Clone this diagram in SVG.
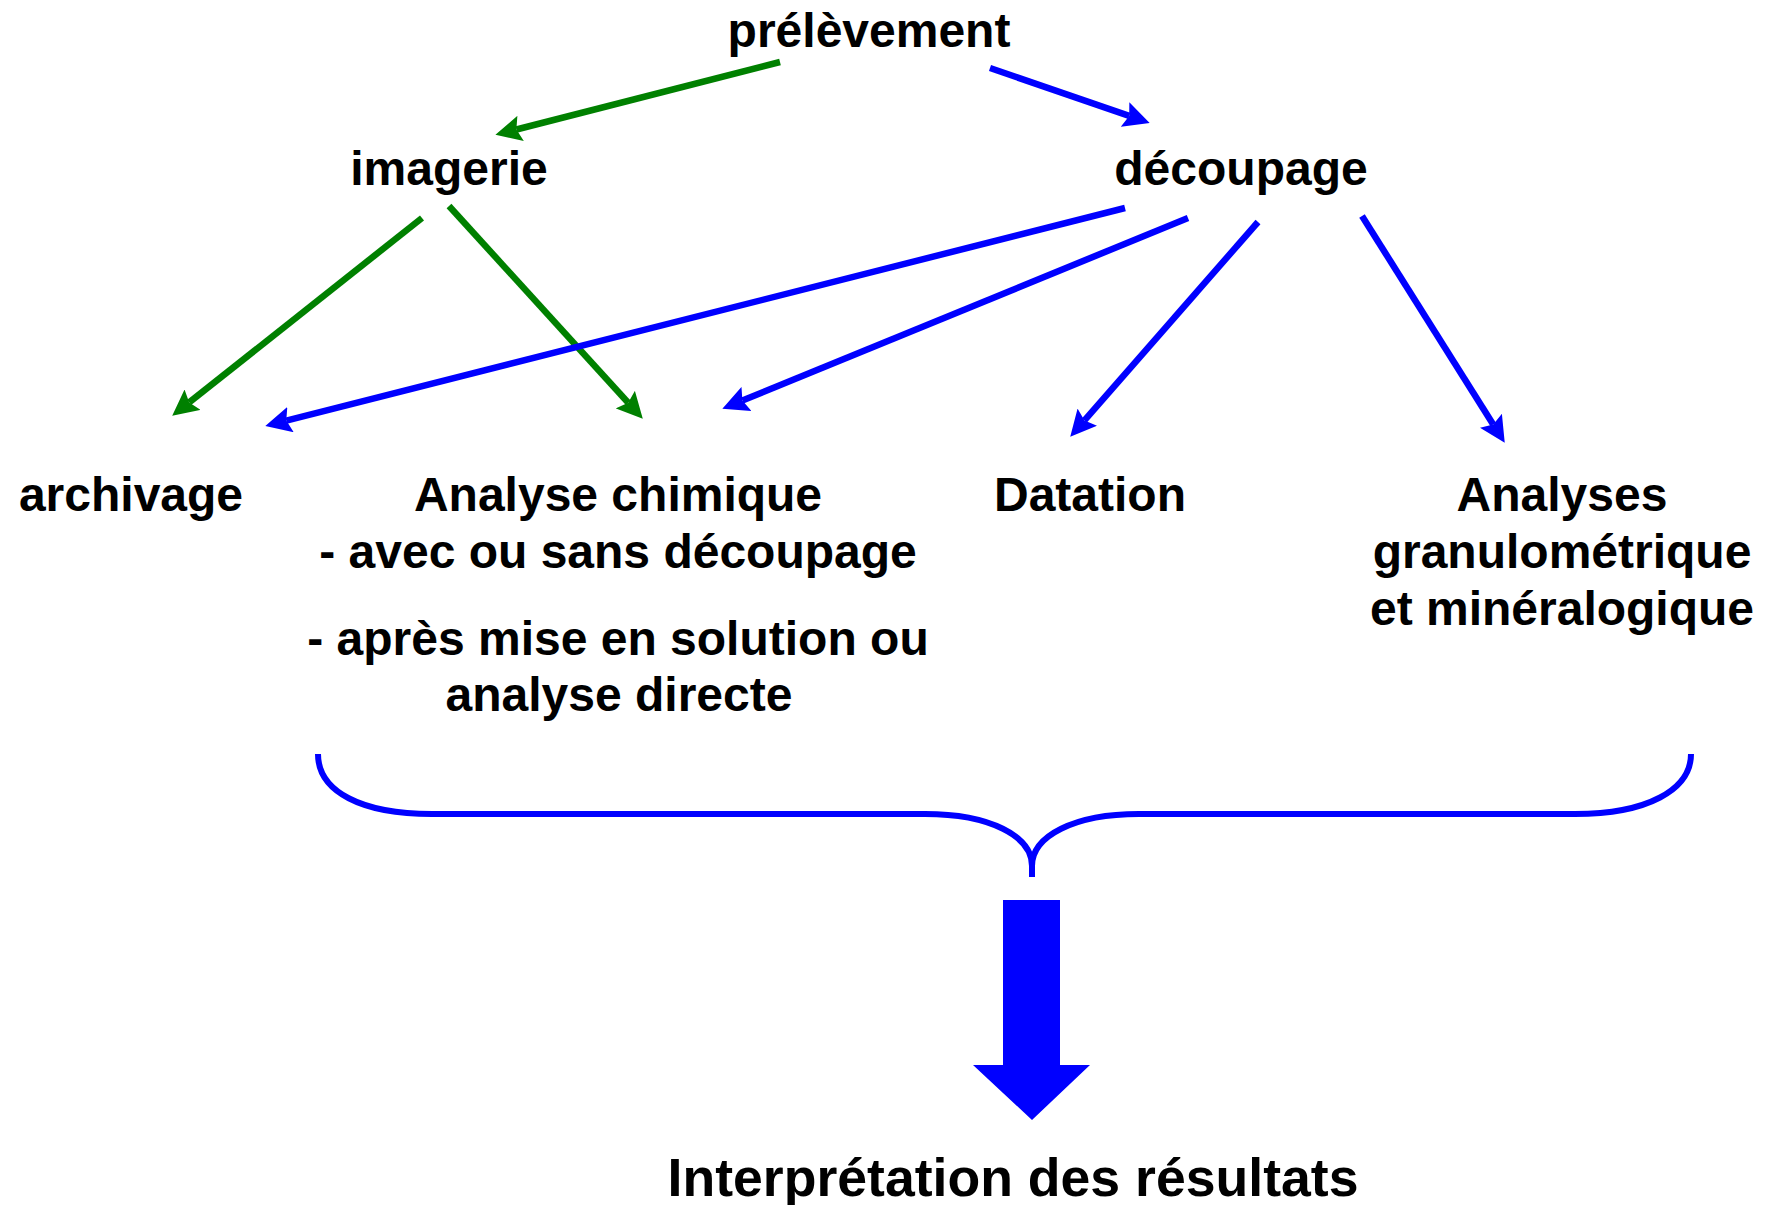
<svg xmlns="http://www.w3.org/2000/svg" width="1768" height="1205" viewBox="0 0 1768 1205">
<style>
text{font-family:"Liberation Sans",Arial,sans-serif;font-weight:bold;font-size:48px;fill:#000;text-anchor:middle}
.g{stroke:#008000;stroke-width:6.5;fill:none;marker-end:url(#ag)}
.b{stroke:#0000FF;stroke-width:6.5;fill:none;marker-end:url(#ab)}
</style>
<defs>
<marker id="ag" markerUnits="userSpaceOnUse" viewBox="0 0 24 24" markerWidth="26" markerHeight="26" refX="4" refY="12" orient="auto"><path d="M0,0 L24,12 L0,24 L4,12 z" fill="#008000"/></marker>
<marker id="ab" markerUnits="userSpaceOnUse" viewBox="0 0 24 24" markerWidth="26" markerHeight="26" refX="4" refY="12" orient="auto"><path d="M0,0 L24,12 L0,24 L4,12 z" fill="#0000FF"/></marker>
</defs>
<g id="n-prelevement"><text x="869" y="47">prélèvement</text></g>
<g id="n-imagerie"><text x="449" y="185">imagerie</text></g>
<g id="n-decoupage"><text x="1241" y="185">découpage</text></g>
<g id="n-archivage"><text x="131" y="511">archivage</text></g>
<g id="n-analyse"><text x="618" y="511">Analyse chimique</text><text x="618" y="568">- avec ou sans découpage</text><text x="618" y="655">- après mise en solution ou</text><text x="619" y="711">analyse directe</text></g>
<g id="n-datation"><text x="1090" y="511">Datation</text></g>
<g id="n-analyses"><text x="1562" y="511">Analyses</text><text x="1562" y="568">granulométrique</text><text x="1562" y="625">et minéralogique</text></g>
<g id="n-interpretation"><text x="1013" y="1196" style="font-size:53.6px">Interprétation des résultats</text></g>
<g id="connectors">
<path class="g" d="M780,62 L516.4,129.5"/>
<path class="b" d="M990,68 L1129.2,115.9"/>
<path class="g" d="M422,218 L189.2,402.4"/>
<path class="g" d="M449,206 L628.2,402.8"/>
<path class="b" d="M1125,208 L286.3,420.6"/>
<path class="b" d="M1188,218 L742.4,400.6"/>
<path class="b" d="M1258,222 L1084.5,420.4"/>
<path class="b" d="M1362,216 L1493.2,424.4"/>
<path d="M318,754 C318,792 362,814 432,814 L925,814 C990,814 1032,836 1032,866 L1032,877 M1032,866 C1032,836 1074,814 1139,814 L1575,814 C1647,814 1691,790 1691,754" fill="none" stroke="#0000FF" stroke-width="6"/>
<path d="M1003,900 L1060,900 L1060,1065 L1090,1065 L1032,1120 L973,1065 L1003,1065 z" fill="#0000FF"/>
</g>
</svg>
